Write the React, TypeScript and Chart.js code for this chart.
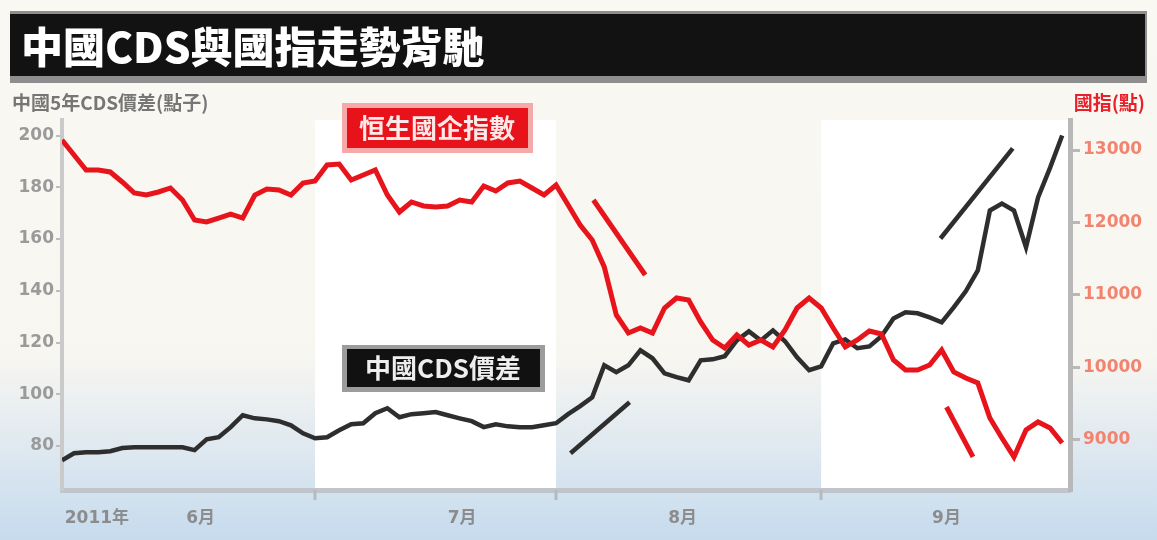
import React, { useEffect, useRef } from "react";
import { Chart, registerables } from "chart.js";
Chart.register(...registerables);

// Trading-day index 0 = start of June 2011
const hsceiValues = [
  13138, 12931, 12724, 12724, 12697, 12559, 12407, 12379, 12421, 12476,
  12310, 12034, 12007, 12062, 12117, 12062, 12379, 12462, 12448, 12379,
  12545, 12572, 12793, 12807, 12586, 12655, 12724, 12379, 12145, 12283,
  12228, 12214, 12228, 12310, 12283, 12503, 12434, 12545, 12572, 12476,
  12379, 12517, 12241, 11966, 11759, 11387, 10724, 10476, 10545, 10476,
  10821, 10959, 10931, 10628, 10379, 10269, 10449, 10310, 10379, 10283,
  10517, 10821, 10959, 10821, 10545, 10283, 10379, 10503, 10462, 10103,
  9966, 9966, 10035, 10241, 9938, 9855, 9786, 9303, 9028, 8766,
  9138, 9248, 9166, 8959,
];
const cdsValues = [
  74.5, 77.2, 77.6, 77.6, 78.0, 79.2, 79.5, 79.5, 79.5, 79.5,
  79.5, 78.4, 82.6, 83.4, 87.3, 91.9, 90.7, 90.3, 89.6, 88.0,
  84.9, 83.0, 83.4, 86.1, 88.4, 88.8, 92.7, 94.6, 91.1, 92.3,
  92.7, 93.1, 91.9, 90.7, 89.6, 87.3, 88.4, 87.6, 87.3, 87.3,
  88.0, 88.8, 92.3, 95.4, 98.8, 111.2, 108.5, 111.2, 117.0, 113.9,
  108.1, 106.6, 105.4, 113.1, 113.5, 114.7, 120.8, 124.3, 120.8, 124.7,
  120.5, 114.3, 109.3, 110.8, 119.7, 121.2, 117.8, 118.5, 122.4, 129.3,
  131.7, 131.3, 129.7, 127.8, 133.6, 139.8, 147.9, 171.0, 173.7, 171.0,
  156.8, 176.1, 187.6, 200.0,
];

// Trend marker segments
const hsceiTrend1X = [44.1, 48.4];
const hsceiTrend1Y = [12310, 11276];
const hsceiTrend2X = [73.4, 75.6];
const hsceiTrend2Y = [9455, 8766];
const cdsTrend1X = [42.2, 47.1];
const cdsTrend1Y = [77.2, 96.9];
const cdsTrend2X = [72.9, 78.9];
const cdsTrend2Y = [160.2, 195];

const xTickLabels = ["2011年", "6月", "7月", "8月", "9月"];
const xTickPositions = [2.9, 11.5, 33.2, 51.5, 73.4];
const monthStarts = [0, 21, 41, 63];
const xMax = 83.65;

const leftTicks = [80, 100, 120, 140, 160, 180, 200];
const rightTicks = [9000, 10000, 11000, 12000, 13000];

const titleText = "中國CDS與國指走勢背馳";
const leftAxisTitle = "中國5年CDS價差(點子)";
const rightAxisTitle = "國指(點)";
const hsceiLabel = "恒生國企指數";
const cdsLabel = "中國CDS價差";

const CJK = '"Noto Sans CJK TC", "Noto Sans CJK SC", sans-serif';

const toPoints = (xs: number[], ys: number[]) => xs.map((x, i) => ({ x, y: ys[i] }));

const decorPlugin = {
  id: "decor",
  beforeDraw(chart: any) {
    const { ctx, width, height, chartArea: a, scales } = chart;
    ctx.save();
    const g = ctx.createLinearGradient(0, 0, 0, height);
    g.addColorStop(0, "#faf8f2");
    g.addColorStop(0.66, "#f7f6f1");
    g.addColorStop(1, "#c6dbee");
    ctx.fillStyle = g;
    ctx.fillRect(0, 0, width, height);

    // white bands for alternate months
    const xs = scales.x;
    monthStarts.forEach((s, i) => {
      if (i % 2 === 1) {
        const x0 = xs.getPixelForValue(s);
        const x1 = i + 1 < monthStarts.length ? xs.getPixelForValue(monthStarts[i + 1]) : a.right;
        ctx.fillStyle = "#ffffff";
        ctx.fillRect(x0, a.top, x1 - x0, a.bottom - a.top);
      }
    });

    // title bar
    ctx.fillStyle = "#8e8e8e";
    ctx.fillRect(10, 11, 1137, 72);
    ctx.fillStyle = "#121212";
    ctx.fillRect(10, 14, 1135, 62);
    ctx.fillStyle = "#ffffff";
    ctx.font = `900 42px ${CJK}`;
    ctx.textBaseline = "middle";
    ctx.textAlign = "left";
    ctx.fillText(titleText, 21, 47);

    // axis titles
    ctx.font = `bold 19px ${CJK}`;
    ctx.fillStyle = "#767676";
    ctx.fillText(leftAxisTitle, 12, 103);
    ctx.fillStyle = "#e8202a";
    ctx.textAlign = "right";
    ctx.fillText(rightAxisTitle, 1145, 103);
    ctx.restore();
  },
  afterDraw(chart: any) {
    const { ctx, chartArea: a, scales } = chart;
    ctx.save();
    // month boundary ticks
    ctx.strokeStyle = "#b4bac0";
    ctx.lineWidth = 3;
    monthStarts.slice(1).forEach((s) => {
      const px = Math.round(scales.x.getPixelForValue(s));
      ctx.beginPath();
      ctx.moveTo(px, a.bottom);
      ctx.lineTo(px, a.bottom + 10);
      ctx.stroke();
    });

    // series label boxes
    ctx.textAlign = "center";
    ctx.textBaseline = "middle";
    ctx.font = `bold 26px ${CJK}`;
    ctx.fillStyle = "#f5a9a9";
    ctx.fillRect(342, 103, 191, 50);
    ctx.fillStyle = "#e8121b";
    ctx.fillRect(347, 108, 181, 40);
    ctx.fillStyle = "#ffe8e8";
    ctx.fillText(hsceiLabel, 437, 128);

    ctx.fillStyle = "#9c9c9c";
    ctx.fillRect(342, 345, 203, 47);
    ctx.fillStyle = "#111111";
    ctx.fillRect(347, 349, 193, 38);
    ctx.fillStyle = "#eeeeee";
    ctx.fillText(cdsLabel, 443, 368);
    ctx.restore();
  },
};

export default function App() {
  const ref = useRef<HTMLCanvasElement | null>(null);
  useEffect(() => {
    document.body.style.margin = "0";
    const canvas = ref.current!;
    const red = "#e8141c";
    const black = "#2e2e2e";
    const chart = new Chart(canvas, {
      type: "line",
      data: {
        datasets: [
          {
            label: hsceiLabel,
            data: toPoints(hsceiValues.map((_, i) => i), hsceiValues),
            yAxisID: "yR",
            borderColor: red,
            borderWidth: 5,
            pointRadius: 0,
            tension: 0,
          },
          {
            label: cdsLabel,
            data: toPoints(cdsValues.map((_, i) => i), cdsValues),
            yAxisID: "yL",
            borderColor: black,
            borderWidth: 4.5,
            pointRadius: 0,
            tension: 0,
          },
          { label: "t1", data: toPoints(hsceiTrend1X, hsceiTrend1Y), yAxisID: "yR", borderColor: red, borderWidth: 5, pointRadius: 0 },
          { label: "t2", data: toPoints(hsceiTrend2X, hsceiTrend2Y), yAxisID: "yR", borderColor: red, borderWidth: 5, pointRadius: 0 },
          { label: "t3", data: toPoints(cdsTrend1X, cdsTrend1Y), yAxisID: "yL", borderColor: black, borderWidth: 4.5, pointRadius: 0 },
          { label: "t4", data: toPoints(cdsTrend2X, cdsTrend2Y), yAxisID: "yL", borderColor: black, borderWidth: 4.5, pointRadius: 0 },
        ],
      },
      options: {
        responsive: false,
        animation: false,
        devicePixelRatio: 1,
        layout: { padding: { top: 120, left: 0, right: 0, bottom: 0 } },
        plugins: { legend: { display: false }, tooltip: { enabled: false } },
        scales: {
          x: {
            type: "linear",
            min: 0,
            max: xMax,
            grid: { display: false },
            border: { display: true, color: "#bfc5cb", width: 5 },
            afterBuildTicks: (s: any) => {
              s.ticks = xTickPositions.map((v) => ({ value: v }));
            },
            afterFit: (s: any) => {
              s.height = 50;
            },
            ticks: {
              autoSkip: false,
              maxRotation: 0,
              padding: 10,
              color: "#8c8c8c",
              font: { family: '"DejaVu Sans", ' + CJK, size: 17, weight: "bold" },
              callback: (_v: any, i: number) => xTickLabels[i],
            },
          },
          yL: {
            type: "linear",
            position: "left",
            min: 63,
            max: 206,
            afterBuildTicks: (s: any) => {
              s.ticks = leftTicks.map((v) => ({ value: v }));
            },
            afterFit: (s: any) => {
              s.width = 62;
            },
            grid: { display: true, drawOnChartArea: false, drawTicks: true, tickLength: 6, color: "#bdbdbd", lineWidth: 2 },
            border: { display: true, color: "#cacaca", width: 4 },
            ticks: {
              padding: 2,
              color: "#9a9a9a",
              font: { family: '"DejaVu Sans"', size: 17, weight: "bold" },
              callback: (v: any) => String(v),
            },
          },
          yR: {
            type: "linear",
            position: "right",
            min: 8310,
            max: 13414,
            afterBuildTicks: (s: any) => {
              s.ticks = rightTicks.map((v) => ({ value: v }));
            },
            afterFit: (s: any) => {
              s.width = 87;
            },
            grid: { display: true, drawOnChartArea: false, drawTicks: true, tickLength: 10, color: "#b8b8b8", lineWidth: 3 },
            border: { display: true, color: "#b8b8b8", width: 5 },
            ticks: {
              padding: 3,
              color: "#f2846f",
              font: { family: '"DejaVu Sans"', size: 17, weight: "bold" },
              callback: (v: any) => String(v),
            },
          },
        },
      },
      plugins: [decorPlugin],
    } as any);
    return () => chart.destroy();
  }, []);
  return (
    <div style={{ width: 1157, height: 540 }}>
      <canvas ref={ref} width={1157} height={540} style={{ display: "block" }} />
    </div>
  );
}
